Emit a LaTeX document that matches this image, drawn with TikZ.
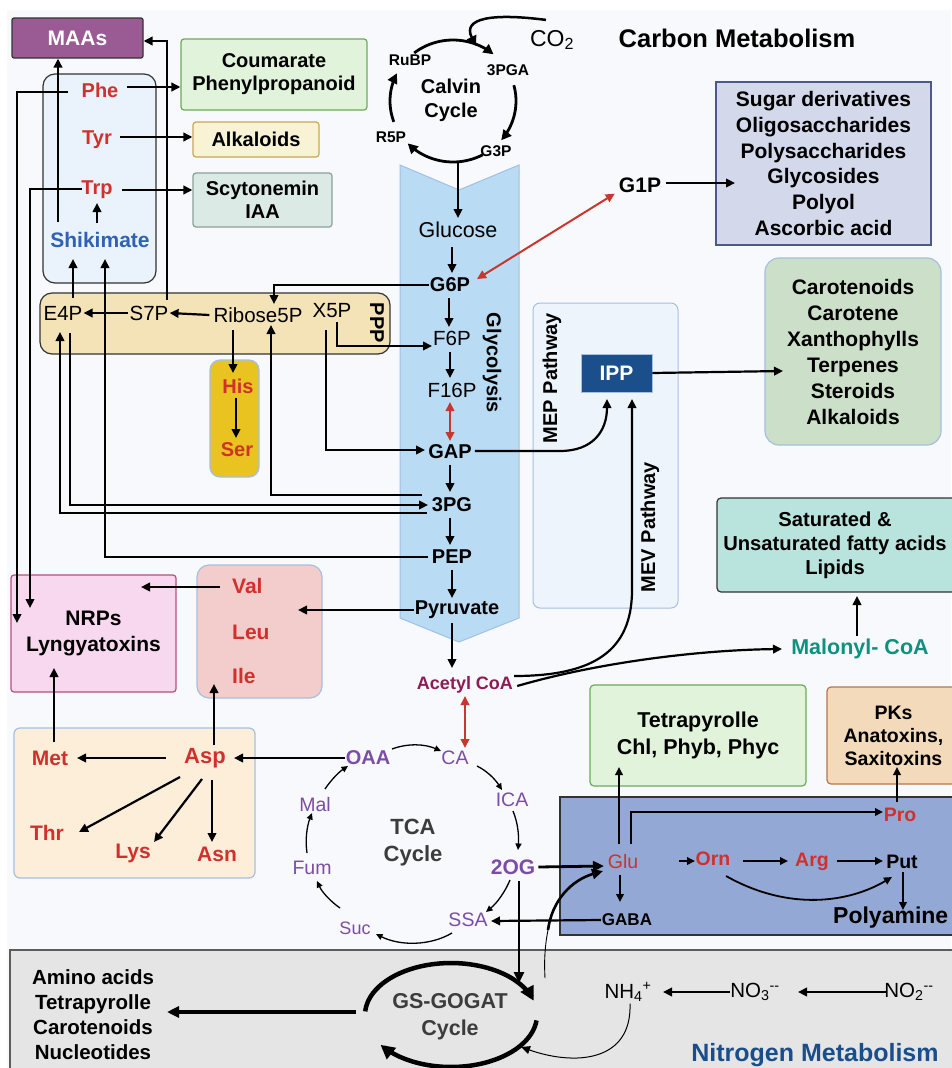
\documentclass[tikz,border=0pt]{standalone}
\usepackage{fontspec}
\setmainfont{Liberation Sans}
\usetikzlibrary{arrows.meta}
\definecolor{bgc}{HTML}{F8F9FC}
\definecolor{aa}{HTML}{D0312D}
\definecolor{shk}{HTML}{2F62B5}
\definecolor{tcac}{HTML}{7B4DA8}
\definecolor{acc}{HTML}{8E1B55}
\definecolor{malc}{HTML}{10907F}
\definecolor{navy}{HTML}{1A4E8A}
\definecolor{redarr}{HTML}{C8372D}
\definecolor{maasc}{HTML}{9A5A94}
\definecolor{shkbox}{HTML}{EAF2FB}
\definecolor{coumf}{HTML}{E1F3DA}
\definecolor{coumd}{HTML}{6BAA5B}
\definecolor{alkf}{HTML}{F8F3D4}
\definecolor{alkd}{HTML}{C9A84E}
\definecolor{scyf}{HTML}{DCEAE6}
\definecolor{scyd}{HTML}{8AA19B}
\definecolor{pppf}{HTML}{F3E3B6}
\definecolor{hisf}{HTML}{E9C31F}
\definecolor{lbd}{HTML}{A3C0E2}
\definecolor{glyf}{HTML}{B9DBF3}
\definecolor{glyd}{HTML}{9FC0E6}
\definecolor{mepf}{HTML}{EEF4FC}
\definecolor{ippf}{HTML}{1B4F8B}
\definecolor{sugf}{HTML}{D3D8EB}
\definecolor{sugd}{HTML}{4A5A8A}
\definecolor{carf}{HTML}{CCDFC9}
\definecolor{lipf}{HTML}{B9E4DE}
\definecolor{pkf}{HTML}{F2DABB}
\definecolor{pkd}{HTML}{B5764A}
\definecolor{nrpf}{HTML}{F7D8EE}
\definecolor{nrpd}{HTML}{B4507F}
\definecolor{valf}{HTML}{F3CDCB}
\definecolor{aspf}{HTML}{FDEEDA}
\definecolor{polf}{HTML}{93A8D4}
\definecolor{nitf}{HTML}{E5E5E5}
\definecolor{dk}{HTML}{333333}
\definecolor{gt}{HTML}{3C3C3C}
\newcommand\fsz[2]{\fontsize{#1}{#2}\selectfont}
\begin{document}
\begin{tikzpicture}[x=1pt,y=-1pt,
  ar/.style={line width=2.2pt, -{Triangle[length=9pt,width=8.5pt]}},
  arm/.style={line width=1.8pt, -{Triangle[length=8pt,width=7.5pt]}},
  art/.style={line width=1.3pt, -{Triangle[length=6.5pt,width=6pt]}},
  arr/.style={line width=2pt, draw=redarr, {Triangle[length=9pt,width=8.5pt]}-{Triangle[length=9pt,width=8.5pt]}},
  bx/.style={draw, line width=1.2pt, inner sep=0pt, align=center},
  t/.style={inner sep=1pt, align=center},
  b17/.style={font=\fsz{17}{20}\bfseries},
  b19/.style={font=\fsz{19.5}{23}\bfseries},
  b20/.style={font=\fsz{20}{25}\bfseries},
  b21/.style={font=\fsz{21}{25}\bfseries},
  r19/.style={font=\fsz{19.5}{23}},
  r20/.style={font=\fsz{20.5}{24}},
 ]
\useasboundingbox (0,0) rectangle (951,1068);
\fill[white] (0,0) rectangle (951,1068);
\fill[bgc] (7,10) rectangle (951,1068);

% ---------- regions and boxes ----------
\node[bx, fill=nitf, draw=dk!80, line width=1.5pt, minimum width=950pt, minimum height=125pt] (nitb) at (485,1012.5) {};
\node[bx, fill=polf, draw=dk, minimum width=400pt, minimum height=138pt] (polb) at (760,866) {};
\filldraw[fill=glyf, draw=glyd, line width=1pt] (400,165) -- (459,190) -- (519,165) -- (519,618) -- (459,642) -- (400,618) -- cycle;
\node[bx, fill=mepf, draw=lbd, line width=1pt, rounded corners=7pt, minimum width=145pt, minimum height=305pt] (mepb) at (605.5,455.5) {};
\node[bx, fill=maasc, draw=dk, rounded corners=2pt, minimum width=131pt, minimum height=40pt, text=white, font=\fsz{21}{25}\bfseries] (maas) at (77.5,38) {MAAs};
\node[bx, fill=shkbox, draw=dk, rounded corners=12pt, minimum width=113pt, minimum height=209pt] (shkb) at (99.5,178.5) {};
\node[bx, fill=coumf, draw=coumd, rounded corners=3pt, minimum width=186pt, minimum height=71pt, font=\fsz{20}{23}\bfseries] (coum) at (274,74.5) {Coumarate\\Phenylpropanoid};
\node[bx, fill=alkf, draw=alkd, rounded corners=3pt, minimum width=126pt, minimum height=35pt, font=\fsz{20}{23}\bfseries] (alk) at (256,139.5) {Alkaloids};
\node[bx, fill=scyf, draw=scyd, rounded corners=3pt, minimum width=139pt, minimum height=54pt, font=\fsz{20}{23}\bfseries] (scy) at (262.5,200) {Scytonemin\\IAA};
\node[bx, fill=pppf, draw=dk, rounded corners=12pt, minimum width=350pt, minimum height=61pt] (pppb) at (215,323.5) {};
\node[bx, fill=hisf, draw=lbd, rounded corners=10pt, minimum width=49pt, minimum height=117pt] (hisb) at (234.5,418.5) {};
\node[bx, fill=ippf, draw=lbd, line width=0.8pt, minimum width=71pt, minimum height=38pt, text=white, font=\fsz{21}{24}\bfseries] (ipp) at (616.5,373) {IPP};
\node[bx, fill=sugf, draw=sugd, minimum width=215pt, minimum height=163pt, font=\fsz{21}{25.8}\bfseries] (sug) at (823.5,163.5) {Sugar derivatives\\Oligosaccharides\\Polysaccharides\\Glycosides\\Polyol\\Ascorbic acid};
\node[bx, fill=carf, draw=lbd, rounded corners=14pt, minimum width=176pt, minimum height=187pt, font=\fsz{21}{26}\bfseries] (car) at (853,351.5) {Carotenoids\\Carotene\\Xanthophylls\\Terpenes\\Steroids\\Alkaloids};
\node[bx, fill=lipf, draw=dk, rounded corners=4pt, minimum width=243pt, minimum height=94pt] (lip) at (838.5,545) {};
\node[t, font=\fsz{20.2}{24}\bfseries] (liptxt) at (835,545) {Saturated \&\\Unsaturated fatty acids\\Lipids};
\node[bx, fill=coumf, draw=coumd, rounded corners=4pt, minimum width=216pt, minimum height=101pt, font=\fsz{21.5}{27}\bfseries] (tet) at (698,735.5) {Tetrapyrolle\\Chl, Phyb, Phyc};
\node[bx, fill=pkf, draw=pkd, rounded corners=4pt, minimum width=133pt, minimum height=97pt, font=\fsz{19.5}{23}\bfseries] (pks) at (893.5,735.5) {PKs\\Anatoxins,\\Saxitoxins};
\node[bx, fill=nrpf, draw=nrpd, rounded corners=3pt, minimum width=165pt, minimum height=117pt, font=\fsz{21}{26}\bfseries] (nrp) at (93.5,633.5) {NRPs\\Lyngyatoxins};
\node[bx, fill=valf, draw=lbd, rounded corners=12pt, minimum width=125pt, minimum height=133pt] (valb) at (259.5,631.5) {};
\node[bx, fill=aspf, draw=lbd, rounded corners=6pt, minimum width=241pt, minimum height=150pt] (aspb) at (134.5,803) {};

% ---------- labels ----------
\node[t, font=\fsz{15.5}{18}\bfseries] (rubp) at (410,60) {RuBP};
\node[t, font=\fsz{15.5}{18}\bfseries] (pga) at (508,70) {3PGA};
\node[t, font=\fsz{15.5}{18}\bfseries] (r5p) at (391,137) {R5P};
\node[t, font=\fsz{15.5}{18}\bfseries] (g3p) at (496,151) {G3P};
\node[t, font=\fsz{20}{24}\bfseries] (calv) at (451,100) {Calvin\\Cycle};
\node[t, font=\fsz{23}{26}] (co2) at (552,40) {CO\textsubscript{2}};
\node[t, font=\fsz{25.5}{28}\bfseries] (carbon) at (737,38) {Carbon Metabolism};

\node[t, font=\fsz{21.5}{24}] (glc) at (458,230) {Glucose};
\node[t, b20] (g6p) at (450,285) {G6P};
\node[t, r20] (f6p) at (452,338) {F6P};
\node[t, r20] (f16p) at (452,390) {F16P};
\node[t, b20] (gap) at (450,452) {GAP};
\node[t, b20] (pg3) at (452,505) {3PG};
\node[t, b20] (pep) at (452,557) {PEP};
\node[t, b20] (pyr) at (457,610) {Pyruvate};
\node[t, b20, rotate=-90] (glyt) at (492,363) {Glycolysis};
\node[t, b21] (g1p) at (640,185) {G1P};

\node[t, r20] (e4p) at (63,313) {E4P};
\node[t, r20] (s7p) at (149,313) {S7P};
\node[t, r20] (rib) at (258,315) {Ribose5P};
\node[t, r20] (x5p) at (332,311) {X5P};
\node[t, b20, rotate=-90] (pppt) at (377,323) {PPP};
\node[t, b20, text=aa] (his) at (238,386) {His};
\node[t, b20, text=aa] (ser) at (237,450) {Ser};

\node[t, b20, text=aa] (phe) at (100,90) {Phe};
\node[t, b20, text=aa] (tyr) at (97,140) {Tyr};
\node[t, b20, text=aa] (trp) at (97,190) {Trp};
\node[t, font=\fsz{21}{25}\bfseries, text=shk] (shik) at (100,240) {Shikimate};

\node[t, font=\fsz{20}{24}\bfseries, rotate=90] (mept) at (552,378) {MEP Pathway};
\node[t, font=\fsz{20}{24}\bfseries, rotate=90] (mevt) at (650,527) {MEV Pathway};
\node[t, font=\fsz{21.5}{25}\bfseries, text=malc] (malo) at (860,649) {Malonyl- CoA};
\node[t, font=\fsz{18}{21}\bfseries, text=acc] (acoa) at (465,685) {Acetyl CoA};

\node[t, b20, text=tcac] (oaa) at (368,758) {OAA};
\node[t, r19, text=tcac] (ca) at (455,758) {CA};
\node[t, r19, text=tcac] (ica) at (512,800) {ICA};
\node[t, b21, text=tcac] (og) at (513,867) {2OG};
\node[t, r19, text=tcac] (ssa) at (468,920) {SSA};
\node[t, font=\fsz{18}{20}, text=tcac] (suc) at (355,928) {Suc};
\node[t, r19, text=tcac] (fum) at (312,868) {Fum};
\node[t, r19, text=tcac] (mal) at (315,805) {Mal};
\node[t, font=\fsz{22}{27}\bfseries, text=gt] (tcat) at (413,843) {TCA\\Cycle};

\node[t, font=\fsz{22}{25}\bfseries, text=aa] (asp) at (205,758) {Asp};
\node[t, b21, text=aa] (met) at (50,758) {Met};
\node[t, b21, text=aa] (thr) at (47,833) {Thr};
\node[t, b21, text=aa] (lys) at (133,853) {Lys};
\node[t, b21, text=aa] (asn) at (217,854) {Asn};
\node[t, b21, text=aa, anchor=west] (val) at (231,586) {Val};
\node[t, b21, text=aa, anchor=west] (leu) at (231,632) {Leu};
\node[t, b21, text=aa, anchor=west] (ile) at (231,676) {Ile};

\node[t, r19, text=aa] (glu) at (623,862) {Glu};
\node[t, b19, text=aa] (orn) at (713,859) {Orn};
\node[t, b19, text=aa] (arg) at (812,862) {Arg};
\node[t, b19] (put) at (902,862) {Put};
\node[t, b19, text=aa] (pro) at (900,815) {Pro};
\node[t, b17] (gaba) at (627,920) {GABA};
\node[t, font=\fsz{23}{27}\bfseries, anchor=west] (polt) at (832,918) {Polyamine};

\node[t, font=\fsz{20.5}{25}\bfseries] (amino) at (93,1014.5) {Amino acids\\Tetrapyrolle\\Carotenoids\\Nucleotides};
\node[t, font=\fsz{21.5}{27}\bfseries, text=gt] (gst) at (450,1016.5) {GS-GOGAT\\Cycle};
\node[t, r20] (nh4) at (628,992) {NH\textsubscript{4}\textsuperscript{+}};
\node[t, r20] (no3) at (755,992) {NO\textsubscript{3}\textsuperscript{-{}-}};
\node[t, r20] (no2) at (909,992) {NO\textsubscript{2}\textsuperscript{-{}-}};
\node[t, font=\fsz{25}{28}\bfseries, text=navy] (nitro) at (815,1055) {Nitrogen Metabolism};

% ---------- Calvin cycle ----------
\begin{scope}[line width=2.8pt, -{Triangle[length=10pt,width=10pt]}]
\draw plot[domain=200:153, samples=20] ({453+63*cos(\x)},{101-61*sin(\x)});
\draw plot[domain=128:50, samples=25] ({453+63*cos(\x)},{101-61*sin(\x)});
\draw plot[domain=15:-40, samples=20] ({453+63*cos(\x)},{101-61*sin(\x)});
\draw plot[domain=-62:-136, samples=25] ({453+63*cos(\x)},{101-61*sin(\x)});
\end{scope}
\draw[line width=2.5pt, -{Triangle[length=10pt,width=10pt]}] (co2.north) ++(-6,-9) .. controls (492,13) and (462,18) .. (476,46);

% ---------- shikimate / aromatic ----------
\draw[ar] (58,222) -- (58,222 |- maas.south);
\draw[ar] (167,300) -- (167,41) -- (167,41 -| maas.east);
\draw[ar] (68,92) -| (17,623);
\draw[ar] (82,189) -| (30,608);
\draw[ar] (127,87) -- (127,87 -| coum.west);
\draw[ar] (120,137) -- (120,137 -| alk.west);
\draw[ar] (122,190) -- (122,190 -| scy.west);
\draw[ar] (97,223) -- (97,203);
\draw[ar] (73,298) -- (73,259);
\draw[ar] ([xshift=-3pt]pep.west) -| (105,259);

% ---------- PPP ----------
\draw[ar] (s7p.west) -- (e4p.east);
\draw[ar] ([xshift=-3pt]rib.west) -- (s7p.east);
\draw[ar] (g6p.west) -| (274,304);
\draw[ar] (233,330) -- (233,373);
\draw[ar] (236,398) -- (236,438);
\draw[ar] (337,322) |- (432,346);
\draw[ar] (326,330) |- (425,450);
\draw[ar] (422,495) -| (271,325);
\draw[ar] (70,333) |- (428,505);
\draw[ar] (427,513) -| (60,332);

% ---------- glycolysis ----------
\draw[ar] (458,163) -- (458,218);
\draw[ar] (452,247) -- (452,273);
\draw[ar] (449,298) -- (449,327);
\draw[ar] (450,352) -- (450,378);
\draw[arr] (450,402) -- (450,441);
\draw[ar] (450,465) -- (450,492);
\draw[ar] (450,518) -- (450,545);
\draw[ar] (452,570) -- (452,598);
\draw[ar] (452,623) -- (452,668);
\draw[arr] (g1p.south west) ++(-3,0) -- (477,279);
\draw[ar] (g1p.east) ++(4,-2) -- (735,183);

% ---------- isoprenoids / lipids ----------
\draw[ar] (ipp.east) -- (783,371);
\draw[ar] (gap.east) ++(2,-1) -- (560,451) .. controls (592,451) and (607,432) .. (607,399);
\draw[ar] (acoa.east) ++(0,-9) .. controls (595,676) and (632,650) .. (632,590) -- (632,399);
\draw[ar] (acoa.east) ++(3,1) .. controls (600,662) and (700,650) .. (782,649);
\draw[ar] (857,636) -- (857,596);

% ---------- TCA ----------
\draw[arr] (465,696) -- (465,748);
\draw[art] (392,749) .. controls (408,743) and (425,744) .. (441,751);
\draw[art] (477,766) .. controls (487,771) and (495,779) .. (502,790);
\draw[art] (513,811) .. controls (518,823) and (519,836) .. (518,850);
\draw[art] (510,880) .. controls (505,892) and (497,903) .. (486,912);
\draw[art] (452,933) .. controls (430,946) and (400,946) .. (376,934);
\draw[art] (340,908) .. controls (330,901) and (322,892) .. (317,881);
\draw[art] (307,853) .. controls (305,840) and (307,826) .. (312,813);
\draw[art] (325,789) .. controls (331,780) and (339,772) .. (348,766);

% ---------- amino acids ----------
\draw[ar] (oaa.west) -- (234,758);
\draw[ar] (166,758) -- (77,758);
\draw[ar] (180,777) -- (79,832);
\draw[ar] (202,779) -- (154,842);
\draw[ar] (212,780) -- (212,842);
\draw[ar] (214,745) -- (214,684);
\draw[ar] (54,742) -- (54,668);
\draw[ar] (220,587) -- (141,587);
\draw[ar] (pyr.west) -- (298,610);

% ---------- nitrogen ----------
\draw[line width=2.8pt, -{Triangle[length=11pt,width=10pt]}] (og.east) ++(2,0) -- (604,866);
\draw[line width=2.8pt, -{Triangle[length=11pt,width=10pt]}] (519,881) -- (519,983);
\draw[ar] (gaba.west) -- (491,921);
\draw[arm] (619,844) -- (619,767);
\draw[arm] (631,844) |- (883,812);
\draw[arm] (orn.west) ++(-15,2) -- (695,861);
\draw[arm] (743,861) -- (788,861);
\draw[arm] (837,861) -- (883,861);
\draw[arm] (726,876) .. controls (790,912) and (850,902) .. (892,877);
\draw[arm] (903,872) -- (903,910);
\draw[arm] (897,802) -- (897,767);
\draw[arm] (620,875) -- (620,902);
\draw[line width=0.9pt] (545,978) .. controls (544,960) and (545,945) .. (548,930);
\draw[line width=2.6pt, -{Triangle[length=11pt,width=10pt]}] (548,930) .. controls (552,900) and (572,880) .. (603,871);
\draw[line width=1pt, -{Triangle[length=9pt,width=8pt]}] (nh4.south) ++(2,1) .. controls (632,1062) and (575,1066) .. (521,1047);
\draw[ar] (730,992) -- (663,992);
\draw[ar] (886,992) -- (798,992);
\draw[line width=3.2pt, -{Triangle[length=12pt,width=11pt]}] (356,1012) -- (167,1012);
\begin{scope}[line width=4.5pt, -{Triangle[length=14pt,width=14pt]}]
\draw plot[domain=176:16, samples=40] ({451+86*cos(\x)},{1015-52*sin(\x)});
\draw plot[domain=-6:-145, samples=40] ({451+86*cos(\x)},{1015-52*sin(\x)});
\end{scope}
\end{tikzpicture}
\end{document}
